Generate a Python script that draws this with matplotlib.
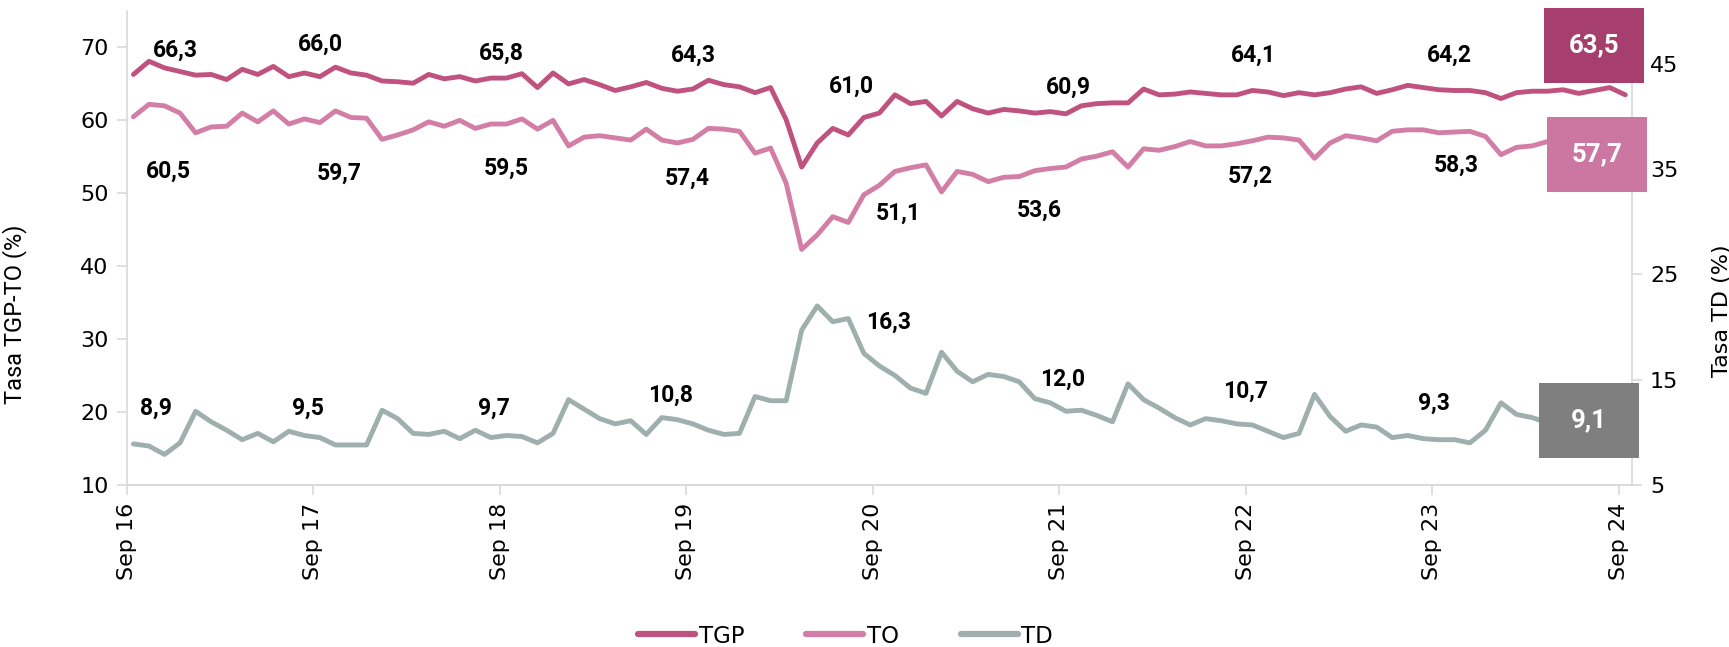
import matplotlib

matplotlib.use("Agg")

import matplotlib.pyplot as plt
import numpy as np
from matplotlib import font_manager
from matplotlib.lines import Line2D
from matplotlib.patches import Rectangle

# monthly series, Sep 16 .. Sep 24 (97 points)
tgp = [66.3, 68.1, 67.2, 66.7, 66.2, 66.3, 65.6, 67.0, 66.3, 67.4, 66.0, 66.5,
       66.0, 67.3, 66.5, 66.2, 65.4, 65.3, 65.1, 66.3, 65.7, 66.0, 65.4, 65.8,
       65.8, 66.4, 64.5, 66.5, 65.0, 65.6, 64.9, 64.1, 64.6, 65.2, 64.4, 64.0,
       64.3, 65.5, 64.9, 64.6, 63.8, 64.5, 60.1, 53.6, 56.9, 58.9, 58.0, 60.4,
       61.0, 63.5, 62.3, 62.6, 60.6, 62.6, 61.6, 61.0, 61.5, 61.3, 61.0, 61.2,
       60.9, 62.0, 62.3, 62.4, 62.4, 64.3, 63.5, 63.6, 63.9, 63.7, 63.5, 63.5,
       64.1, 63.9, 63.4, 63.8, 63.5, 63.8, 64.3, 64.6, 63.7, 64.2, 64.8, 64.5,
       64.2, 64.1, 64.1, 63.8, 63.0, 63.8, 64.0, 64.0, 64.2, 63.7, 64.1, 64.5,
       63.5]
to = [60.5, 62.2, 62.0, 61.0, 58.3, 59.1, 59.2, 61.0, 59.8, 61.3, 59.5, 60.2,
      59.7, 61.3, 60.4, 60.3, 57.4, 58.0, 58.7, 59.8, 59.2, 60.0, 58.9, 59.5,
      59.5, 60.2, 58.8, 60.0, 56.5, 57.7, 57.9, 57.6, 57.3, 58.8, 57.3, 56.9,
      57.4, 58.9, 58.8, 58.5, 55.5, 56.2, 51.4, 42.3, 44.3, 46.8, 46.0, 49.8,
      51.1, 53.0, 53.5, 53.9, 50.2, 53.0, 52.6, 51.6, 52.2, 52.3, 53.1, 53.4,
      53.6, 54.7, 55.1, 55.7, 53.6, 56.1, 55.9, 56.4, 57.1, 56.5, 56.5, 56.8,
      57.2, 57.7, 57.6, 57.3, 54.8, 56.9, 57.9, 57.6, 57.2, 58.5, 58.7, 58.7,
      58.3, 58.4, 58.5, 57.8, 55.3, 56.3, 56.5, 57.1, 57.3, 57.5, 57.6, 57.9,
      57.7]
td = [8.9, 8.7, 7.9, 9.0, 12.0, 11.0, 10.2, 9.3, 9.9, 9.1, 10.1, 9.7,
      9.5, 8.8, 8.8, 8.8, 12.1, 11.3, 9.9, 9.8, 10.1, 9.4, 10.2, 9.5,
      9.7, 9.6, 9.0, 9.9, 13.1, 12.2, 11.3, 10.8, 11.1, 9.8, 11.4, 11.2,
      10.8, 10.2, 9.8, 9.9, 13.4, 13.0, 13.0, 19.7, 22.0, 20.5, 20.8, 17.5,
      16.3, 15.4, 14.2, 13.7, 17.6, 15.8, 14.8, 15.5, 15.3, 14.8, 13.2, 12.8,
      12.0, 12.1, 11.6, 11.0, 14.6, 13.1, 12.3, 11.4, 10.7, 11.3, 11.1, 10.8,
      10.7, 10.1, 9.5, 9.9, 13.6, 11.5, 10.1, 10.7, 10.5, 9.5, 9.7, 9.4,
      9.3, 9.3, 9.0, 10.2, 12.8, 11.7, 11.4, 10.9, 10.5, 10.0, 9.6, 9.4,
      9.1]
tick_labels = ["Sep 16", "Sep 17", "Sep 18", "Sep 19", "Sep 20",
               "Sep 21", "Sep 22", "Sep 23", "Sep 24"]

C_TGP, C_TO, C_TD = "#C0527F", "#D27EA6", "#9EAFAD"
C_SPINE = "#D9D9D9"

names = {f.name for f in font_manager.fontManager.ttflist}
NARROW = "Liberation Sans Narrow" if "Liberation Sans Narrow" in names else "Roboto"
LABEL_FONT = "Roboto"

fig = plt.figure(figsize=(17.29, 6.47), dpi=100)
ax = fig.add_axes([0.0733, 0.2504, 0.8706, 0.7326])
ax2 = ax.twinx()

x = np.arange(len(tgp)) + 0.43
line_kw = dict(lw=3.5, solid_joinstyle="round", solid_capstyle="round")
ax.plot(x, tgp, color=C_TGP, **line_kw)
ax.plot(x, to, color=C_TO, **line_kw)
ax2.plot(x, td, color=C_TD, **line_kw)

ax.set_xlim(0, 96.86)
ax.set_ylim(10, 75)
ax2.set_ylim(5, 50)
ax.set_yticks(range(10, 71, 10))
ax2.set_yticks(range(5, 46, 10))
ax.set_xticks(range(0, 97, 12))
ax.set_xticklabels(tick_labels, rotation=90)

for a in (ax, ax2):
    a.spines["top"].set_visible(False)
    for s in ("left", "right", "bottom"):
        a.spines[s].set_color(C_SPINE)
        a.spines[s].set_linewidth(1.2)
    a.tick_params(color=C_SPINE, length=7, width=1.2, labelsize=16, pad=6)
ax2.spines["left"].set_visible(False)
ax.spines["right"].set_visible(False)

ax.set_ylabel("Tasa TGP-TO (%)", fontsize=17, family=NARROW)
ax.yaxis.set_label_coords(-0.066, 0.36)
ax2.set_ylabel("Tasa TD (%)", fontsize=16)
ax2.yaxis.set_label_coords(1.053, 0.367)

# label positions (month, value)
tgp_lab_x = [3.1, 12.43, 24.08, 36.45, 46.6, 60.59, 72.47, 85.08]
tgp_lab_y = [69.6, 70.4, 69.2, 68.9, 64.7, 64.6, 68.9, 68.9]
to_lab_x = [2.67, 13.65, 24.4, 36.09, 49.65, 58.72, 72.28, 85.58]
to_lab_y = [53.0, 52.8, 53.4, 52.1, 47.3, 47.7, 52.3, 53.8]
td_lab_x = [1.88, 11.64, 23.63, 35.02, 49.05, 60.22, 72.02, 84.12]
td_lab_y = [12.3, 12.3, 12.3, 13.55, 20.4, 15.0, 13.9, 12.8]


def fmt(v):
    return f"{v:.1f}".replace(".", ",")


lab_kw = dict(ha="center", va="center", fontsize=16.5, fontweight="bold", family=LABEL_FONT)
for i in range(8):
    ax.text(tgp_lab_x[i], tgp_lab_y[i], fmt(tgp[12 * i]), **lab_kw)
    ax.text(to_lab_x[i], to_lab_y[i], fmt(to[12 * i]), **lab_kw)
    ax2.text(td_lab_x[i], td_lab_y[i], fmt(td[12 * i]), **lab_kw)

# last-value boxes (centre month, centre value on left axis), drawn above every line
boxes = [(94.4, 70.25, tgp[-1], "#A63F6E"),
         (94.6, 55.3, to[-1], "#CC77A2"),
         (94.1, 18.85, td[-1], "#7F7F7F")]
for bx, by, val, col in boxes:
    ax2.add_patch(Rectangle((bx - 3.2, by - 5.15), 6.4, 10.3, facecolor=col,
                            edgecolor="none", clip_on=False, zorder=5,
                            transform=ax.transData))
    ax2.text(bx, by, fmt(val), ha="center", va="center", color="white", fontsize=18.5,
             fontweight="bold", family=LABEL_FONT, zorder=6, transform=ax.transData)

handles = [Line2D([], [], color=c, lw=4.5, solid_capstyle="round") for c in (C_TGP, C_TO, C_TD)]
fig.legend(handles, ["TGP", "TO", "TD"], loc="center", bbox_to_anchor=(0.489, 0.017),
           ncol=3, frameon=False, fontsize=16.5, handlelength=2.5, handletextpad=0.15,
           columnspacing=2.7)

fig.savefig("out.png", dpi=100)
plt.close(fig)
